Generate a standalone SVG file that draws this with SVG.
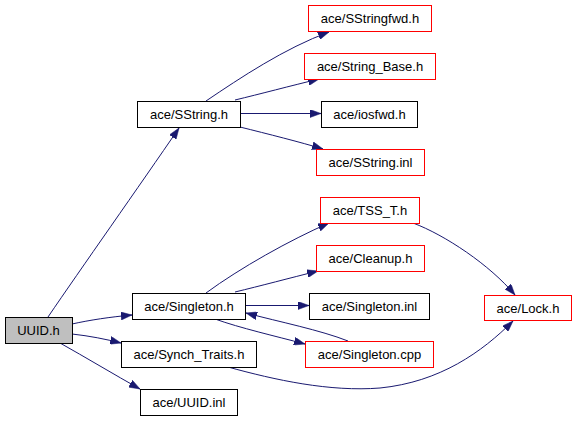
<svg xmlns="http://www.w3.org/2000/svg" width="576" height="421" viewBox="0 0 576 421">
<style>
.n rect{fill:#fff;stroke:#000;stroke-width:1}
.n.r rect{stroke:#f00}
.n.g rect{fill:#bfbfbf}
.n text{font-family:"Liberation Sans",Arial,sans-serif;font-size:13px;text-anchor:middle;fill:#000}
.e path{fill:none;stroke:#191970;stroke-width:1;marker-end:url(#ah)}
</style>
<defs>
<marker id="ah" markerUnits="userSpaceOnUse" markerWidth="11" markerHeight="8" viewBox="0 0 11 8" refX="11" refY="4" orient="auto">
<path d="M0,0 L11,4 L0,8 Z" fill="#191970" stroke="#191970" stroke-width="0.5"/>
</marker>
</defs>
<rect width="576" height="421" fill="#fff"/>
<g id="edges" class="e">
<path d="M48,317 C 80,270 140,185 179,128"/>
<path d="M206,101 C 240,78 285,48 329,32"/>
<path d="M235,100 C 260,94 290,86 319,79"/>
<path d="M240,113.5 L321,113.5"/>
<path d="M240,127 C 268,134 300,142 323,149"/>
<path d="M72,324 C 90,320 110,317 132,315"/>
<path d="M72,334 C 90,336 105,339 121,343"/>
<path d="M60,343 C 85,357 115,375 140,389"/>
<path d="M206,293 C 240,268 290,240 329,223"/>
<path d="M235,292 C 260,286 290,278 318,271"/>
<path d="M245,305.5 L309,305.5"/>
<path d="M215,319 C 240,328 275,336 305,344"/>
<path d="M348,341 C 320,330 280,322 246,313"/>
<path d="M413,223 C 445,235 490,265 515,295"/>
<path d="M228,367 C 275,380 330,392 380,388 C 440,382 482,352 513,321"/>
</g>
<g id="uuid_h" class="n g"><rect x="5.5" y="317.5" width="67" height="26"/><text x="38.5" y="335">UUID.h</text></g>
<g id="sstring_h" class="n"><rect x="137.5" y="101.5" width="103" height="26"/><text x="189" y="119">ace/SString.h</text></g>
<g id="singleton_h" class="n"><rect x="132.5" y="293.5" width="113" height="26"/><text x="189" y="311">ace/Singleton.h</text></g>
<g id="synch_traits_h" class="n"><rect x="121.5" y="341.5" width="135" height="26"/><text x="189" y="359">ace/Synch_Traits.h</text></g>
<g id="uuid_inl" class="n"><rect x="140.5" y="389.5" width="97" height="26"/><text x="189" y="407">ace/UUID.inl</text></g>
<g id="sstringfwd_h" class="n r"><rect x="308.5" y="5.5" width="123" height="26"/><text x="370" y="23">ace/SStringfwd.h</text></g>
<g id="string_base_h" class="n r"><rect x="304.5" y="53.5" width="131" height="26"/><text x="370" y="71">ace/String_Base.h</text></g>
<g id="iosfwd_h" class="n"><rect x="321.5" y="101.5" width="96" height="26"/><text x="369.5" y="119">ace/iosfwd.h</text></g>
<g id="sstring_inl" class="n r"><rect x="316.5" y="149.5" width="108" height="26"/><text x="370.5" y="167">ace/SString.inl</text></g>
<g id="tss_t_h" class="n r"><rect x="320.5" y="197.5" width="99" height="26"/><text x="370" y="215">ace/TSS_T.h</text></g>
<g id="cleanup_h" class="n r"><rect x="316.5" y="245.5" width="108" height="26"/><text x="370.5" y="263">ace/Cleanup.h</text></g>
<g id="singleton_inl" class="n"><rect x="309.5" y="293.5" width="120" height="26"/><text x="369.5" y="311">ace/Singleton.inl</text></g>
<g id="singleton_cpp" class="n r"><rect x="305.5" y="341.5" width="128" height="26"/><text x="369.5" y="359">ace/Singleton.cpp</text></g>
<g id="lock_h" class="n r"><rect x="484.5" y="295.5" width="87" height="25"/><text x="528" y="313">ace/Lock.h</text></g>
</svg>
